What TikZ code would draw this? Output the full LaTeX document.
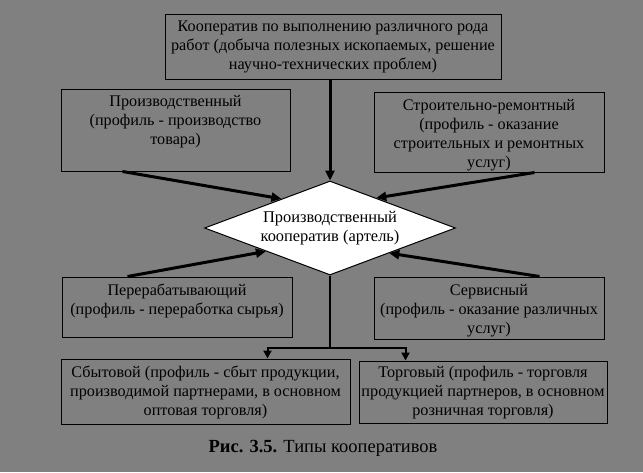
\documentclass[tikz,border=0pt]{standalone}
\usepackage{fontspec}
\setmainfont{Liberation Serif}
\usetikzlibrary{shapes.geometric,arrows.meta,calc}
\definecolor{bggray}{RGB}{128,128,128}
\begin{document}
\begin{tikzpicture}[x=1pt,y=-1pt,
  box/.style={draw=black,line width=1pt,rectangle,inner sep=0pt},
  txt/.style={font=\fontsize{16.2}{19}\selectfont,align=center,inner sep=0pt,anchor=north},
  arr/.style={line width=3pt,-{Triangle[length=10pt,width=9pt]}},
  arr2/.style={line width=2pt,-{Triangle[length=8pt,width=8pt]}},
  link/.style={line width=2pt}]
\fill[bggray] (0,0) rectangle (643,472);
\useasboundingbox (0,0) rectangle (643,472);

% boxes
\node[box,minimum width=336pt,minimum height=65pt] (top) at (333,46.5) {};
\node[box,minimum width=229pt,minimum height=82pt] (prod) at (175.5,130) {};
\node[box,minimum width=230pt,minimum height=80pt] (stroy) at (489,132) {};
\node[box,minimum width=230pt,minimum height=60pt] (pererab) at (177,307) {};
\node[box,minimum width=230pt,minimum height=62pt] (serv) at (489,308) {};
\node[box,minimum width=289pt,minimum height=65pt] (sbyt) at (205.5,391.5) {};
\node[box,minimum width=248pt,minimum height=62pt] (torg) at (483,392) {};

% texts
\node[txt,anchor=center] (toptxt) at ($(top.center)+(0,0.5)$) {Кооператив по выполнению различного рода\\работ (добыча полезных ископаемых, решение\\научно-технических проблем)};
\node[txt] (prodtxt) at ($(prod.north)+(0,7)$) {Производственный\\(профиль - производство\\товара)};
\node[txt] (stroytxt) at ($(stroy.north)+(0,7.5)$) {Строительно-ремонтный\\(профиль - оказание\\строительных и ремонтных\\услуг)};
\node[txt] (pererabtxt) at ($(pererab.north)+(0,7.5)$) {Перерабатывающий\\(профиль - переработка сырья)};
\node[txt] (servtxt) at ($(serv.north)+(0,7.5)$) {Сервисный\\(профиль - оказание различных\\услуг)};
\node[txt] (sbyttxt) at ($(sbyt.north)+(0,7.5)$) {Сбытовой (профиль - сбыт продукции,\\производимой партнерами, в основном\\оптовая торговля)};
\node[txt] (torgtxt) at ($(torg.north)+(0,5.5)$) {Торговый (профиль - торговля\\продукцией партнеров, в основном\\розничная торговля)};

% diamond
\node[diamond,draw=black,line width=1pt,fill=white,inner sep=0pt,shape aspect=2.67,
  minimum width=251pt,minimum height=94pt,
  font=\fontsize{16.4}{18.5}\selectfont,align=center] (dia) at (330,228)
  {Производственный\\кооператив (артель)};

% arrows into diamond
\draw[arr] (top.south -| dia.north) -- (dia.north);
\draw[arr] ($(prod.south west)+(62,0)$) -- (dia.149);
\draw[arr] ($(stroy.south west)+(161,0)$) -- (dia.33);
\draw[arr] ($(pererab.north west)+(66,0)$) -- (dia.200);
\draw[arr] ($(serv.north west)+(166,0)$) -- (dia.337);

% lower tree
\coordinate (junc) at ($(dia.south)+(0,72)$);
\coordinate (sbytin) at ($(sbyt.north west)+(207,0)$);
\coordinate (torgin) at ($(torg.north west)+(47,0)$);
\draw[link] (dia.south) -- (junc);
\draw[arr2] (junc) -| (sbytin);
\draw[arr2] (junc) -| (torgin);

% caption
\node[font=\fontsize{18.5}{22}\selectfont,inner sep=0pt] (cap) at (323,448) {\textbf{Рис. 3.5.} Типы кооперативов};
\end{tikzpicture}
\end{document}
